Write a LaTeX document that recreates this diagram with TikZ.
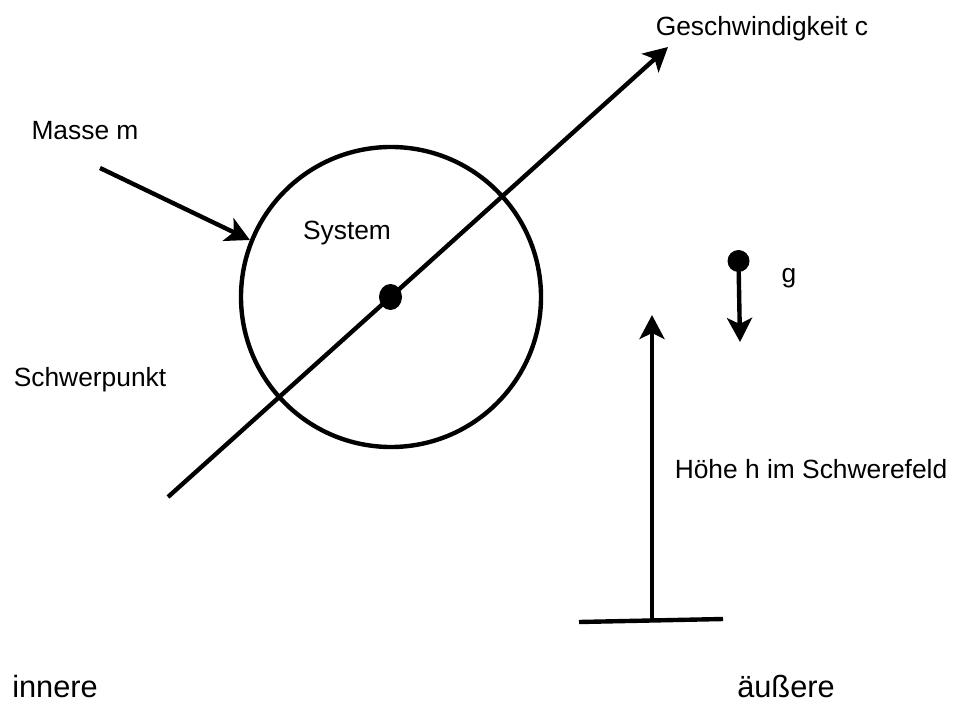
\documentclass[tikz,border=0pt]{standalone}
\usepackage{fontspec}
\setmainfont{Liberation Sans}
\usetikzlibrary{arrows.meta,shapes.geometric}
\begin{document}
\begin{tikzpicture}[
    thick line/.style={line width=2.5pt},
    arr/.style={thick line, -{Stealth[length=0.48cm, width=0.5cm, inset=0.12cm]}},
    dot/.style={circle, fill, inner sep=0pt},
    lbl/.style={font=\fontsize{15}{18}\selectfont, inner sep=0pt},
    big/.style={font=\fontsize{17.5}{21}\selectfont, inner sep=0pt}]
  \useasboundingbox (0,0) rectangle (19.06,14.08);
  \node[circle, draw, thick line, minimum size=6cm, inner sep=0pt] (sys) at (7.82,8.14) {};
  \node[ellipse, fill, inner sep=0pt, minimum width=0.46cm, minimum height=0.52cm] (cg) at (7.81,8.14) {};
  \coordinate (tail) at (3.36,4.14);
  \coordinate (head) at (13.36,13.14);
  \draw[arr] (tail) -- (cg.center) -- (head);
  \coordinate (mstart) at (2.0,10.72);
  \draw[arr] (mstart) -- (sys.158);
  \node[dot, minimum size=0.44cm] (gdot) at (14.77,8.86) {};
  \coordinate (gend) at (14.8,7.24);
  \draw[arr] (gdot.center) -- (gend);
  \coordinate (gl) at (11.58,1.64);
  \coordinate (gr) at (14.46,1.70);
  \coordinate (hbase) at (13.04,1.67);
  \coordinate (htop) at (13.04,7.78);
  \draw[thick line] (gl) -- (gr);
  \draw[arr] (hbase) -- (htop);
  \node[lbl] (mass) at (1.7,11.46) {Masse m};
  \node[lbl] (system) at (6.94,9.42) {System};
  \node[lbl] (cgl) at (1.8,6.48) {Schwerpunkt};
  \node[lbl] (vel) at (15.24,13.5) {Geschwindigkeit c};
  \node[lbl] (g) at (15.78,8.52) {g};
  \node[lbl] (height) at (16.22,4.7) {Höhe h im Schwerefeld};
  \node[big] (inner) at (1.1,0.35) {innere};
  \node[big] (outer) at (15.72,0.35) {äußere};
\end{tikzpicture}
\end{document}
